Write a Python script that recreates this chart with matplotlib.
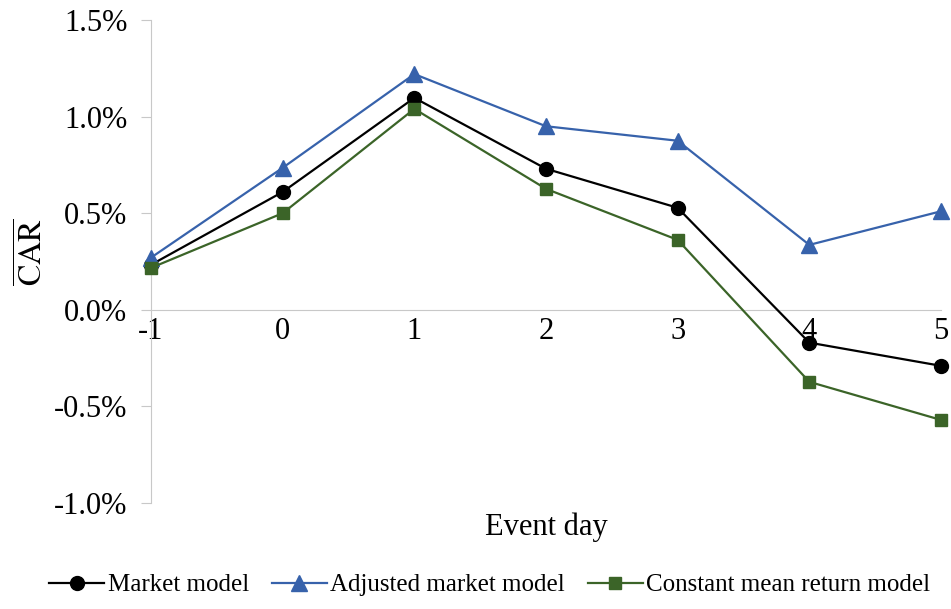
import numpy as np
from matplotlib import pyplot as plt
from matplotlib.ticker import PercentFormatter

plt.rcParams['font.family'] = ['Liberation Serif', 'DejaVu Serif']
plt.rcParams['mathtext.fontset'] = 'stix'
plt.rcParams['axes.unicode_minus'] = False

# event days and CAR (%) per model
days = [-1, 0, 1, 2, 3, 4, 5]
market = [0.233, 0.61, 1.097, 0.73, 0.528, -0.17, -0.29]
adjusted = [0.27, 0.735, 1.22, 0.95, 0.875, 0.336, 0.51]
constant = [0.217, 0.50, 1.04, 0.626, 0.362, -0.373, -0.57]

fig, ax = plt.subplots(figsize=(9.51, 6.09), dpi=100)
fig.subplots_adjust(left=151/951, right=941/951, top=1-20/609, bottom=1-503/609)

ax.plot(days, market, color='black', lw=1.6, marker='o', ms=10,
        label='Market model', clip_on=False, zorder=3)
ax.plot(days, adjusted, color='#3762ab', lw=1.6, marker='^', ms=11,
        label='Adjusted market model', clip_on=False, zorder=3)
ax.plot(days, constant, color='#3b6428', lw=1.6, marker='s', ms=9,
        label='Constant mean return model', clip_on=False, zorder=3)

ax.set_xlim(-1, 5)
ax.set_ylim(-1.0, 1.5)
ax.set_yticks([-1.0, -0.5, 0.0, 0.5, 1.0, 1.5])
ax.yaxis.set_major_formatter(PercentFormatter(decimals=1))
ax.set_xticks(days)

for s in ['top', 'right']:
    ax.spines[s].set_visible(False)
ax.spines['bottom'].set_position(('data', 0))
ax.spines['bottom'].set_color('#c8c8c8')
ax.spines['left'].set_color('#c8c8c8')
ax.tick_params(axis='y', length=7, color='#c8c8c8', labelsize=22, pad=10)
ax.tick_params(axis='x', length=0, labelsize=22, pad=5)

ax.set_xlabel('Event day', fontsize=22)
ax.xaxis.set_label_coords(0.5, -0.02)
ax.set_ylabel(r'$\overline{\mathrm{CAR}}$', fontsize=23)
ax.yaxis.set_label_coords(-0.128, 0.52)

fig.legend(loc='center', bbox_to_anchor=(0.515, 24/609), ncol=3, frameon=False,
           fontsize=18, handlelength=2.2, handletextpad=0.15, columnspacing=0.9,
           markerscale=1.0)

plt.savefig('out.png')
